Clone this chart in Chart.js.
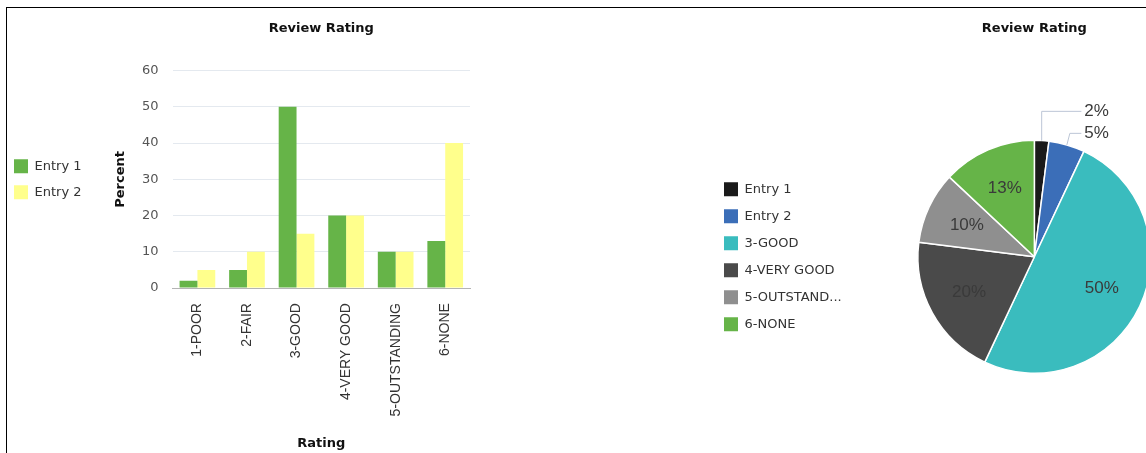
<!DOCTYPE html>
<html>
<head>
<meta charset="utf-8">
<script src="https://cdn.jsdelivr.net/npm/chart.js@4.4.0/dist/chart.umd.min.js"></script>
<style>
  html, body { margin: 0; padding: 0; background: #fff; overflow: hidden; }
  body { width: 1146px; height: 453px; position: relative; }
  #frame { position: absolute; left: 6px; top: 7px; right: 0; bottom: 0; border-top: 1px solid #000; border-left: 1px solid #000; pointer-events: none; z-index: 2; }
  #barChart { position: absolute; left: 2px; top: 8px; }
  #pieChart { position: absolute; left: 700px; top: 8px; }
</style>
</head>
<body>
<div id="frame"></div>
<canvas id="barChart" width="480" height="445"></canvas>
<canvas id="pieChart" width="600" height="445"></canvas>
<script>
var ratings = ["1-POOR", "2-FAIR", "3-GOOD", "4-VERY GOOD", "5-OUTSTANDING", "6-NONE"];
var entry1 = [2, 5, 50, 20, 10, 13];
var entry2 = [5, 10, 15, 20, 10, 40];
var yMin = 0, yMax = 60, yStep = 10;

var pieLabels = ["Entry 1", "Entry 2", "3-GOOD", "4-VERY GOOD", "5-OUTSTANDING", "6-NONE"];
var pieValues = [2, 5, 50, 20, 10, 13];
var pieColors = ["#1a1a1a", "#3b6eb8", "#3abcbe", "#4a4a4a", "#8f8f8f", "#66b448"];

var sansFont = "'DejaVu Sans', Verdana, sans-serif";
var arialFont = "'Liberation Sans', Arial, sans-serif";

Chart.defaults.animation = false;
Chart.defaults.font.family = sansFont;
Chart.defaults.color = "#333";

function generateBarChart() {
  let ctx = document.getElementById("barChart").getContext("2d");
  new Chart(ctx, {
    type: "bar",
    data: {
      labels: ratings,
      datasets: [
        { label: "Entry 1", data: entry1, backgroundColor: "#66b448" },
        { label: "Entry 2", data: entry2, backgroundColor: "#ffff8c" },
      ],
    },
    options: {
      responsive: false,
      devicePixelRatio: 1,
      categoryPercentage: 0.72,
      barPercentage: 1.0,
      layout: { padding: { left: 0, right: 12, top: 0, bottom: 0 } },
      plugins: {
        tooltip: { enabled: false },
        title: {
          display: true,
          text: "Review Rating",
          fullSize: false,
          color: "#111",
          font: { size: 13, weight: "bold" },
          padding: { top: 13, bottom: 34 },
        },
        legend: {
          position: "left",
          fullSize: false,
          labels: {
            boxWidth: 14,
            boxHeight: 14,
            padding: 12,
            color: "#333",
            font: { size: 13 },
          },
        },
      },
      scales: {
        x: {
          grid: { display: false, drawTicks: false },
          border: { display: true, color: "#b4b4b4", width: 1 },
          ticks: {
            minRotation: 90,
            maxRotation: 90,
            padding: 15,
            color: "#333",
            font: { family: arialFont, size: 14 },
          },
          title: {
            display: true,
            text: "Rating",
            color: "#111",
            font: { size: 13, weight: "bold" },
            padding: { top: 4, bottom: 2 },
          },
        },
        y: {
          min: yMin,
          max: yMax,
          ticks: {
            stepSize: yStep,
            padding: 14,
            color: "#555",
            font: { size: 13 },
          },
          grid: { color: "#e4e9ef", drawTicks: false },
          border: { display: false },
          title: {
            display: true,
            text: "Percent",
            color: "#111",
            font: { size: 13, weight: "bold" },
            padding: { top: 21, bottom: 0 },
          },
        },
      },
    },
  });
}

function truncateLabel(chart, text, maxWidth) {
  let c = chart.ctx;
  c.save();
  c.font = "13px " + sansFont;
  let out = text;
  if (c.measureText(text).width > maxWidth) {
    let n = text.length - 1;
    while (n > 1 && c.measureText(text.slice(0, n) + "...").width > maxWidth) n--;
    out = text.slice(0, n) + "...";
  }
  c.restore();
  return out;
}

var pieLabelPlugin = {
  id: "pieLabels",
  afterDatasetsDraw(chart) {
    let c = chart.ctx;
    let meta = chart.getDatasetMeta(0);
    let values = chart.data.datasets[0].data;
    let total = values.reduce((a, b) => a + b, 0);
    let small = 0;
    c.save();
    c.font = "17px " + arialFont;
    c.fillStyle = "#3a3a3a";
    c.textBaseline = "middle";
    meta.data.forEach((arc, i) => {
      let p = arc.getProps(["x", "y", "startAngle", "endAngle", "outerRadius"], true);
      let mid = (p.startAngle + p.endAngle) / 2;
      let pct = Math.round((values[i] / total) * 100) + "%";
      if (values[i] / total >= 0.08) {
        let r = p.outerRadius * 0.64;
        c.textAlign = "center";
        c.fillText(pct, p.x + Math.cos(mid) * r, p.y + Math.sin(mid) * r);
      } else {
        let ex = p.x + Math.cos(mid) * p.outerRadius;
        let ey = p.y + Math.sin(mid) * p.outerRadius;
        let ly = p.y - p.outerRadius - 29 + small * 22;
        let lx = p.x + 47;
        c.strokeStyle = "#bcc6d6";
        c.lineWidth = 1;
        c.beginPath();
        c.moveTo(ex, ey);
        c.lineTo(ex + small * 3, ly);
        c.lineTo(lx, ly);
        c.stroke();
        c.textAlign = "left";
        c.fillText(pct, lx + 3, ly);
        small++;
      }
    });
    c.restore();
  },
};

function generatePieChart() {
  let ctx = document.getElementById("pieChart").getContext("2d");
  new Chart(ctx, {
    type: "pie",
    data: {
      labels: pieLabels,
      datasets: [
        {
          data: pieValues,
          backgroundColor: pieColors,
          borderColor: "#ffffff",
          borderWidth: 1.5,
        },
      ],
    },
    plugins: [pieLabelPlugin],
    options: {
      responsive: false,
      devicePixelRatio: 1,
      layout: { padding: { left: 11, right: 83, top: 0, bottom: 79 } },
      plugins: {
        tooltip: { enabled: false },
        title: {
          display: true,
          text: "Review Rating",
          fullSize: false,
          color: "#111",
          font: { size: 13, weight: "bold" },
          padding: { top: 13, bottom: 103 },
        },
        legend: {
          position: "left",
          fullSize: false,
          labels: {
            boxWidth: 14,
            boxHeight: 14,
            padding: 13,
            color: "#333",
            font: { size: 13 },
            generateLabels: function (chart) {
              let items = Chart.overrides.pie.plugins.legend.labels.generateLabels(chart);
              items.forEach((item) => {
                item.text = truncateLabel(chart, item.text, 100);
                item.lineWidth = 0;
              });
              return items;
            },
          },
        },
      },
    },
  });
}

generateBarChart();
generatePieChart();
</script>
</body>
</html>
